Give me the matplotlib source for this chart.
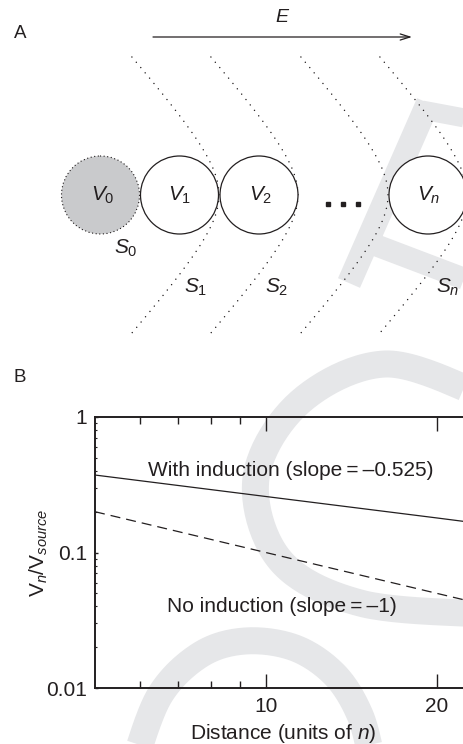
import numpy as np
import matplotlib
matplotlib.use('Agg')
import matplotlib.pyplot as plt
from matplotlib.patches import Circle
from matplotlib.ticker import LogLocator, NullFormatter

plt.rcParams['font.family'] = ['Liberation Sans', 'DejaVu Sans']
plt.rcParams['mathtext.fontset'] = 'custom'
plt.rcParams['mathtext.rm'] = 'Liberation Sans'
plt.rcParams['mathtext.it'] = 'Liberation Sans:italic'
plt.rcParams['mathtext.bf'] = 'Liberation Sans:bold'

# --- panel B data ---
distance = [5, 10, 20, 23]
with_induction = [0.373, 0.259, 0.180, 0.167]
no_induction = [0.2, 0.1, 0.05, 0.0435]
x_ticks = [10, 20]
x_tick_labels = ['10', '20']
x_minor = [6, 7, 8, 9]
y_ticks = [0.01, 0.1, 1]
y_tick_labels = ['0.01', '0.1', '1']

# --- panel A diagram (pixel layout) ---
cell_labels = ['$V_0$', '$V_1$', '$V_2$', '$V_n$']
cell_x = [100.5, 179.5, 259, 428]
cell_label_x = [102.5, 180, 261, 429]
cell_y = 195
cell_r = 39
surface_labels = ['$S_0$', '$S_1$', '$S_2$', '$S_n$']
surface_label_xy = [(126, 248), (196, 287), (277, 287), (448, 287)]
surface_tip_x = [219, 298, 388, 467]

ink = '#231f20'
wm = '#e6e7e9'


def smooth(pts, k=25):
    # catmull-rom through the points
    pts = np.asarray(pts, float)
    p = np.vstack([pts[0], pts, pts[-1]])
    out = []
    t = np.linspace(0, 1, k, endpoint=False)[:, None]
    for i in range(1, len(p) - 2):
        p0, p1, p2, p3 = p[i - 1], p[i], p[i + 1], p[i + 2]
        out.append(0.5 * (2 * p1 + (-p0 + p2) * t + (2 * p0 - 5 * p1 + 4 * p2 - p3) * t ** 2
                          + (-p0 + 3 * p1 - 3 * p2 + p3) * t ** 3))
    out.append(p[-2][None])
    return np.vstack(out)


fig = plt.figure(figsize=(4.64, 7.44), dpi=100)

canvas = fig.add_axes([0, 0, 1, 1], zorder=0)
canvas.set_xlim(0, 464)
canvas.set_ylim(744, 0)
canvas.axis('off')

# watermark strokes (px widths -> pt)
big_o = smooth([(480, 394), (385, 364), (300, 402), (256, 478), (280, 560), (360, 603), (480, 614)])
arch = smooth([(135, 760), (160, 695), (200, 655), (245, 641), (295, 648), (335, 675), (360, 715), (372, 760)])
for c in (big_o, arch):
    canvas.plot(c[:, 0], c[:, 1], color=wm, lw=27 * 0.72, solid_capstyle='butt', zorder=0)
canvas.plot([349, 428], [283, 103], color=wm, lw=24 * 0.72, solid_capstyle='butt', zorder=0)
canvas.plot([422, 470], [110, 119], color=wm, lw=19 * 0.72, solid_capstyle='butt', zorder=0)
canvas.plot([370, 470], [243, 281], color=wm, lw=22 * 0.72, solid_capstyle='butt', zorder=0)

# field arrow
canvas.annotate('', xy=(412, 37), xytext=(153, 37),
                arrowprops=dict(arrowstyle='->,head_length=0.7,head_width=0.22',
                                lw=0.9, color=ink, shrinkA=0, shrinkB=0))
canvas.text(283, 18, '$E$', fontsize=14, ha='center', va='center', color=ink)

# dotted surfaces
yy = np.linspace(57, 333, 300)
for tip in surface_tip_x:
    xx = tip - (np.sqrt(45 ** 2 + (0.9 * (yy - cell_y)) ** 2) - 45)
    canvas.plot(xx, yy, color=ink, lw=1.1, linestyle=(0, (0.01, 4.5)),
                dash_capstyle='round', zorder=2)

# cells
for i, (x, lab, lx) in enumerate(zip(cell_x, cell_labels, cell_label_x)):
    if i == 0:
        c = Circle((x, cell_y), cell_r, fc='#c9cacc', ec=ink, lw=1.0,
                   linestyle=(0, (0.01, 2.6)), zorder=3)
        c.set_capstyle('round')
    else:
        c = Circle((x, cell_y), cell_r, fc='white', ec=ink, lw=0.9, zorder=3)
    canvas.add_patch(c)
    canvas.text(lx, cell_y, lab, fontsize=15, ha='center', va='center', color=ink, zorder=4)

mid = (cell_x[2] + cell_x[3]) / 2
canvas.plot([mid - 15, mid, mid + 15], [204] * 3, 's', ms=3.3, color=ink, zorder=4)

for lab, (sx, sy) in zip(surface_labels, surface_label_xy):
    canvas.text(sx, sy, lab, fontsize=15, ha='center', va='center', color=ink, zorder=4)

canvas.text(20, 33, 'A', fontsize=13.5, ha='center', va='center', color=ink)
canvas.text(20, 378, 'B', fontsize=13.5, ha='center', va='center', color=ink)

# --- panel B ---
ax = fig.add_axes([95 / 464, 56 / 744, 376 / 464, 271 / 744], zorder=1)
ax.patch.set_alpha(0)
ax.set_xscale('log')
ax.set_yscale('log')
ax.plot(distance, with_induction, color=ink, lw=0.9)
ax.plot(distance, no_induction, color=ink, lw=0.9, dashes=(8, 4.8))
ax.set_xlim(5, 23)
ax.set_ylim(0.01, 1)

ax.set_xticks(x_ticks, x_tick_labels)
ax.set_xticks(x_minor, minor=True)
ax.xaxis.set_minor_formatter(NullFormatter())
ax.set_yticks(y_ticks, y_tick_labels)
ax.yaxis.set_minor_locator(LogLocator(subs=range(2, 10)))
ax.yaxis.set_minor_formatter(NullFormatter())

ax.tick_params(axis='x', which='major', direction='in', length=10, width=1,
               pad=6.5, labelsize=15, top=True, colors=ink)
ax.tick_params(axis='x', which='minor', direction='in', length=5, width=1, top=True, colors=ink)
ax.tick_params(axis='y', which='major', direction='in', length=2.5, width=1,
               pad=5.5, labelsize=15, right=False, colors=ink)
ax.tick_params(axis='y', which='minor', direction='in', length=1.5, width=0.8, colors=ink)
for s in ax.spines.values():
    s.set_linewidth(1.4)
    s.set_color(ink)

ax.set_xlabel('Distance (units of $n$)', fontsize=15, color=ink, labelpad=4)
ax.set_ylabel(r'$\mathrm{V}_n/\mathrm{V}_{source}$', fontsize=15, color=ink)
ax.yaxis.set_label_coords(-45 / 376, 0.5)

canvas.text(291, 470, 'With induction (slope\u2009=\u2009\u20130.525)', fontsize=15,
            ha='center', va='center', color=ink)
canvas.text(282, 607, 'No induction (slope\u2009=\u2009\u20131)', fontsize=15,
            ha='center', va='center', color=ink)

fig.savefig('out.png', dpi=100)
